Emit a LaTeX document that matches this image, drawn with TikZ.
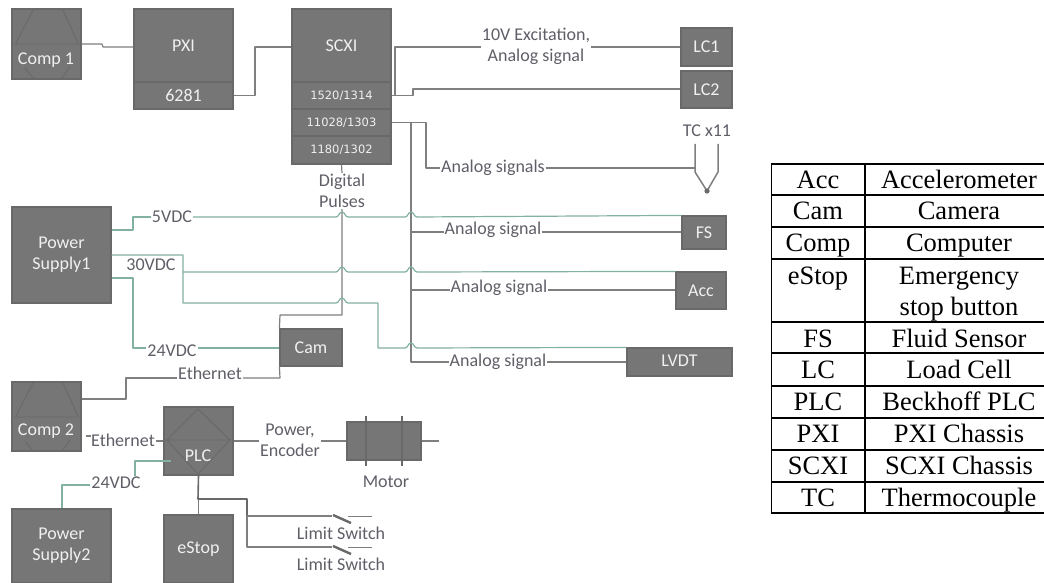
\documentclass[tikz,border=0pt]{standalone}
\usepackage{fontspec}
\setmainfont{Carlito}
\newfontfamily\tabfont{Liberation Serif}
\newfontfamily\modfont{DejaVu Sans}
\usetikzlibrary{calc}
\definecolor{boxfill}{HTML}{767676}
\definecolor{boxedge}{HTML}{696969}
\definecolor{wiregrey}{HTML}{7F7F7F}
\definecolor{wiregreen}{HTML}{82B0A2}
\definecolor{labelgrey}{HTML}{5F5F68}
\definecolor{boxtext}{HTML}{F0F0F0}
\tikzset{
  boxnode/.style={draw=boxedge,fill=boxfill,line width=1.2pt,text=boxtext,align=center,inner sep=0pt,font=\fontsize{18}{21}\selectfont},
  modnode/.style={boxnode,font=\modfont\fontsize{11.5}{14}\selectfont},
  wire/.style={draw=wiregrey,line width=1.2pt,line join=round},
  greenwire/.style={draw=wiregreen,line width=1.2pt,line join=round},
  iconline/.style={draw=boxedge,line width=0.9pt},
  lbl/.style={text=labelgrey,align=center,inner sep=1pt,font=\fontsize{18}{21}\selectfont},
  tabtext/.style={inner sep=0pt,anchor=base,text=black,font=\tabfont\fontsize{26.5}{31}\selectfont},
  tabrule/.style={draw=black,line width=1.4pt}
}
% box from corners (x1,y1)-(x2,y2)
\newcommand{\bx}[7][boxnode]{%
  \node[#1,minimum width=#4pt-#2pt,minimum height=#5pt-#3pt] (#6) at ({(#2+#4)/2},{(#3+#5)/2}) {#7};}
\newcommand{\hp}[2]{-- (#1-6,#2) .. controls (#1-3,#2) and (#1-3,#2-5) .. (#1,#2-5) .. controls (#1+3,#2-5) and (#1+3,#2) .. (#1+6,#2)}
\newcommand{\compicon}[1]{%
  \begin{scope}[yshift=-#1pt]
  \draw[iconline] (14,44)--(79,44) (16,43)--(33,10) (63,10)--(78,43) (25,68)--(33,78) (62,78)--(70,67);
  \end{scope}}
\begin{document}
\begin{tikzpicture}[x=1pt,y=-1pt]
\useasboundingbox[fill=white] (0,0) rectangle (1044,583);
% boxes
\bx{12}{9}{81}{79}{comp1}{}
\compicon{0}
\node[text=boxtext,inner sep=0pt,font=\fontsize{18}{21}\selectfont] (comp1t) at (46,60) {Comp 1};
\bx{134}{9}{233}{82}{pxi}{PXI}
\bx{134}{82}{233}{109}{pxib}{6281}
\bx{292}{9}{391}{82}{scxi}{SCXI}
\bx[modnode]{292}{82}{391}{109}{m1}{1520/1314}
\bx[modnode]{292}{109}{391}{136}{m2}{11028/1303}
\bx[modnode]{292}{136}{391}{164}{m3}{1180/1302}
\bx{681}{28}{732}{66}{lc1}{LC1}
\bx{681}{71}{732}{108}{lc2}{LC2}
\bx{682}{216}{726}{249}{fs}{FS}
\bx{676}{272}{726}{309}{acc}{Acc}
\bx{627}{348}{732}{376}{lvdt}{\raisebox{3pt}{LVDT}}
\bx{12}{207}{111}{303}{ps1}{Power\\Supply1}
\bx{280}{329}{342}{366}{cam}{Cam}
\bx{12}{382}{81}{451}{comp2}{}
\compicon{373}
\node[text=boxtext,inner sep=0pt,font=\fontsize{18}{21}\selectfont] (comp2t) at (46,431) {Comp 2};
\bx{164}{407}{233}{475}{plc}{}
\draw[iconline] (165,440)--(232,440) (167,440)--(198,409)--(230,440) (167,440)--(198,474)--(230,440);
\node[text=boxtext,inner sep=0pt,font=\fontsize{18}{21}\selectfont] (plct) at (198,456) {PLC};
\bx{347}{422}{421}{460}{motor}{}
\bx{12}{509}{111}{583}{ps2}{Power\\Supply2}
\bx{164}{515}{233}{583}{estop}{eStop}
% labels
\node[lbl] (l10v) at (536,46) {10V Excitation,\\Analog signal};
\node[lbl] (ltcx) at (707,131) {TC x11};
\node[lbl] (lasigs) at (493,168) {Analog signals};
\node[lbl] (ldp) at (342,191) {Digital\\Pulses};
\node[lbl] (l5v) at (172,217) {5VDC};
\node[lbl] (las1) at (493,230) {Analog signal};
\node[lbl] (l30v) at (151,265) {30VDC};
\node[lbl] (las2) at (499,288) {Analog signal};
\node[lbl] (l24a) at (172,351) {24VDC};
\node[lbl] (las3) at (498,362) {Analog signal};
\node[lbl] (leth1) at (210,373) {Ethernet};
\node[lbl] (leth2) at (123,440) {Ethernet};
\node[lbl] (lpe) at (290,440) {Power,\\Encoder};
\node[lbl] (lmot) at (386,482) {Motor};
\node[lbl] (l24b) at (116,483) {24VDC};
\node[lbl] (lls1) at (341,533) {Limit Switch};
\node[lbl] (lls2) at (341,564) {Limit Switch};
% grey wires
\draw[wire] (comp1.east) -- (102,44) -- (103,47) -- (pxi.west |- 0,47);
\draw[wire] (pxib.east) -- (255,95.5) -- (255,47) -- (scxi.west |- 0,47);
\draw[wire] (m1.east) -- (395,95.5) -- (395,47) -- (l10v.west |- 0,47);
\draw[wire] (l10v.east |- 0,47) -- (lc1.west |- 0,47);
\draw[wire] (m1.east) -- (413,95.5) -- (413,89) -- (lc2.west |- 0,89);
\draw[wire] (m2.east) -- (426,122.5) -- (426,168) -- (lasigs.west);
\draw[wire] (lasigs.east) -- (695,168);
\draw[wire] (m2.east) -- (411,122.5) -- (411,362) -- (las3.west |- 0,362);
\draw[wire] (411,232) -- (las1.west |- 0,232);
\draw[wire] (las1.east |- 0,232) -- (fs.west |- 0,232);
\draw[wire] (411,290) -- (las2.west |- 0,290);
\draw[wire] (las2.east |- 0,290) -- (acc.west |- 0,290);
\draw[wire] (las3.east |- 0,362) -- (lvdt.west |- 0,362);
\draw[wire] (m3.south) -- (ldp.north);
\draw[wire] (ldp.south) -- (342,315) -- (280,315) -- (cam.north west);
\draw[wire] (cam.south west) -- (280,378) -- (leth1.east |- 0,378);
\draw[wire] (leth1.west |- 0,378) -- (126,378) -- (126,399) -- (comp2.east |- 0,399);
\draw[wire] (86,436) -- (91,436);
\draw[wire] (leth2.east |- 0,441) -- (plc.west |- 0,441);
\draw[wire] (plc.east |- 0,441) -- (lpe.west |- 0,441);
\draw[wire] (lpe.east |- 0,441) -- (motor.west |- 0,441);
\draw[wire] (motor.east |- 0,441) -- (439,441);
\draw[wire,draw=boxedge] (366,416) -- (366,466) (402,416) -- (402,466);
\draw[wire] (plc.south) -- (estop.north);
\draw[wire,line width=1.6pt,draw=boxedge] (plc.south) -- (198,499) -- (247,499) -- (247,516);
\draw[wire] (247,516) -- (247,547) -- (332,547);
\draw[wire] (247,516) -- (332,516);
\draw[wire,line width=0.9pt] (348,516) -- (372,516) (348,547) -- (372,547);
\draw[wire,line width=2.4pt,draw=boxedge] (333,515) -- (351,523) (333,546) -- (351,554);
% thermocouple
\coordinate (tcjoin) at (707,191);
\draw[wire,line width=1.5pt] (695,144) -- (695,172) -- (tcjoin) -- (718,172) -- (718,144);
\fill[boxedge] (tcjoin) circle (2.6pt);
% green wires
\draw[greenwire] (ps1.east |- 0,230) -- (133,230) -- (133,217) -- (l5v.west);
\draw[greenwire] (l5v.east) \hp{342}{217} \hp{411}{217} -- (fs.north west);
\draw[greenwire] (ps1.east |- 0,255) -- (183,255) -- (183,303) \hp{342}{303} -- (378,303) -- (378,348) \hp{411}{348} -- (lvdt.north west);
\draw[greenwire] (183,272) \hp{342}{272} \hp{411}{272} -- (acc.north west);
\draw[greenwire] (ps1.east |- 0,278) -- (133,278) -- (133,348) -- (l24a.west |- 0,348);
\draw[greenwire] (l24a.east |- 0,348) -- (cam.west |- 0,348);
\draw[greenwire] (171,461) -- (135,461) -- (l24b.north -| 135,0);
\draw[greenwire] (l24b.west |- 0,485) -- (62,485) -- (ps2.north -| 62,0);
% legend table
\foreach \yy in {164,195,227,259,322,353,386,418,450,482,513}
  \draw[tabrule] (771,\yy) -- (1044,\yy);
\draw[tabrule] (771.5,164) -- (771.5,513) (865,164) -- (865,513);
\foreach \nm/\yy/\aa/\bb in {a/188/Acc/Accelerometer,b/219/Cam/Camera,c/251/Comp/Computer,
  f/347/FS/Fluid Sensor,g/378/LC/Load Cell,h/410/PLC/Beckhoff PLC,i/442/PXI/PXI Chassis,
  j/474/SCXI/SCXI Chassis,k/506/TC/Thermocouple}{
  \node[tabtext] (ta\nm) at (818,\yy) {\aa};
  \node[tabtext] (tb\nm) at (959,\yy) {\bb};
}
\node[tabtext] (tae) at (818,284) {eStop};
\node[tabtext] (tbe1) at (959,284) {Emergency};
\node[tabtext] (tbe2) at (959,315) {stop button};
\end{tikzpicture}
\end{document}
